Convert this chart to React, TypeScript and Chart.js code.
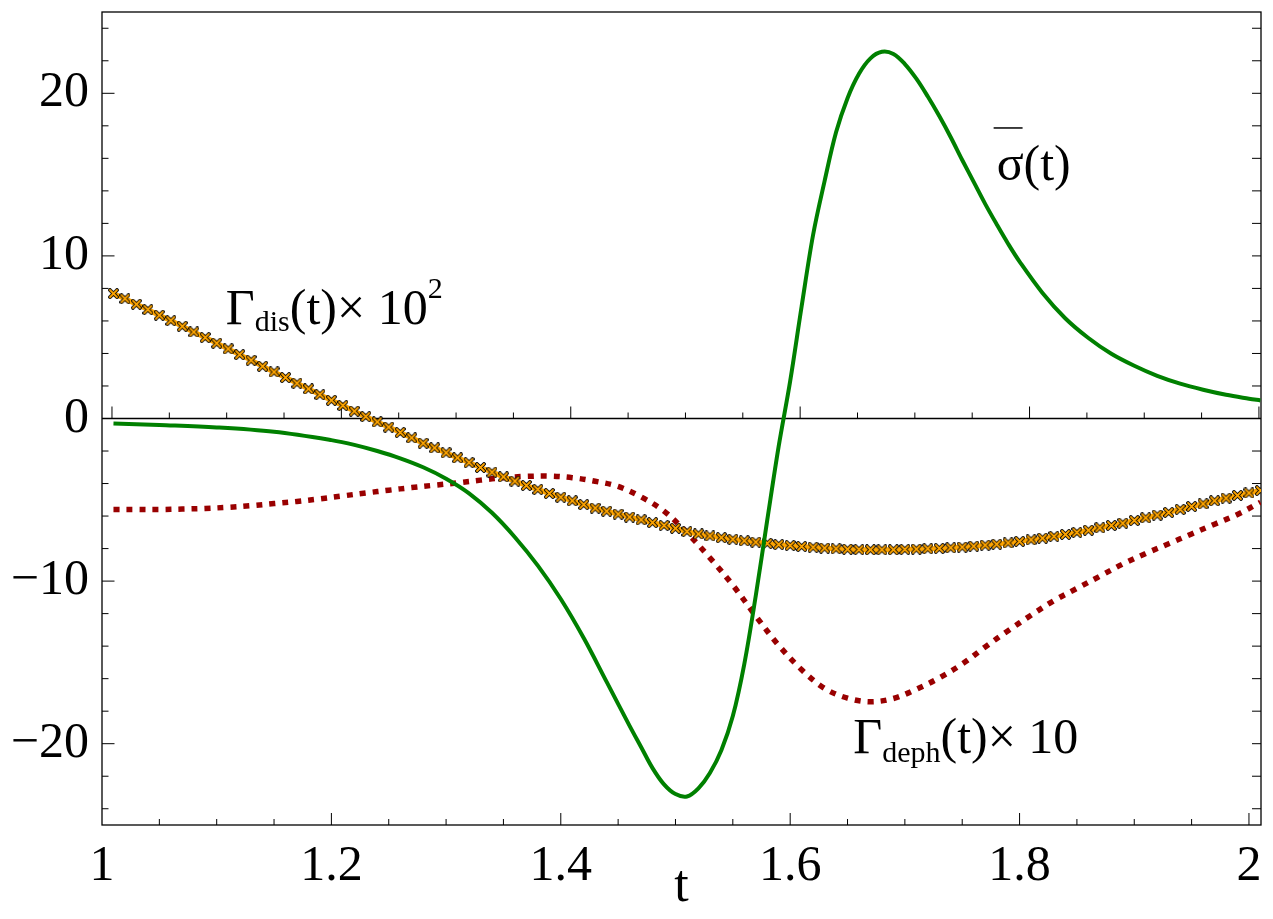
import React, { useEffect, useRef } from "react";
import { Chart, registerables } from "chart.js";

Chart.register(...registerables);

// ---- axis ticks ----
const X_TICK_LABELS = [1, 1.2, 1.4, 1.6, 1.8, 2];
const Y_TICK_LABELS = [-20, -10, 0, 10, 20];
const X_MIN = 1;
const X_MAX = 2.0105;
const Y_MIN = -25;
const Y_MAX = 25;

// ---- Γ_dis(t) × 10^2 (orange, with markers) ----
const DIS_T = [
  1.01, 1.02, 1.03, 1.04, 1.05, 1.06, 1.07, 1.08, 1.09, 1.1,
  1.11, 1.12, 1.13, 1.14, 1.15, 1.16, 1.17, 1.18, 1.19, 1.2,
  1.21, 1.22, 1.23, 1.24, 1.25, 1.26, 1.27, 1.28, 1.29, 1.3,
  1.31, 1.32, 1.33, 1.34, 1.35, 1.36, 1.37, 1.38, 1.39, 1.4,
  1.41, 1.42, 1.43, 1.44, 1.45, 1.46, 1.47, 1.48, 1.49, 1.5,
  1.51, 1.52, 1.53, 1.54, 1.55, 1.56, 1.57, 1.58, 1.59, 1.6,
  1.61, 1.62, 1.63, 1.64, 1.65, 1.66, 1.67, 1.68, 1.69, 1.7,
  1.71, 1.72, 1.73, 1.74, 1.75, 1.76, 1.77, 1.78, 1.79, 1.8,
  1.81, 1.82, 1.83, 1.84, 1.85, 1.86, 1.87, 1.88, 1.89, 1.9,
  1.91, 1.92, 1.93, 1.94, 1.95, 1.96, 1.97, 1.98, 1.99, 2.0,
  2.01,
];
const DIS_V = [
  7.68, 7.37, 7.03, 6.7, 6.35, 6.02, 5.67, 5.32, 4.98, 4.63,
  4.28, 3.93, 3.58, 3.21, 2.86, 2.52, 2.17, 1.82, 1.47, 1.12,
  0.8, 0.45, 0.12, -0.21, -0.53, -0.86, -1.19, -1.52, -1.81, -2.11,
  -2.42, -2.71, -3.01, -3.3, -3.59, -3.85, -4.12, -4.36, -4.61, -4.84,
  -5.06, -5.29, -5.51, -5.7, -5.88, -6.06, -6.23, -6.4, -6.58, -6.75,
  -6.95, -7.1, -7.22, -7.33, -7.43, -7.52, -7.6, -7.68, -7.75, -7.81,
  -7.87, -7.92, -7.97, -8.01, -8.04, -8.06, -8.07, -8.07, -8.07, -8.05,
  -8.03, -8.01, -7.99, -7.95, -7.91, -7.85, -7.79, -7.73, -7.65, -7.56,
  -7.46, -7.36, -7.25, -7.13, -7.01, -6.87, -6.72, -6.58, -6.44, -6.27,
  -6.11, -5.94, -5.78, -5.59, -5.41, -5.25, -5.06, -4.9, -4.73, -4.58,
  -4.43,
];

// ---- σ̄(t) (green) ----
const SIGMA_T = [
  1.01, 1.05, 1.1, 1.15, 1.2, 1.22, 1.24, 1.26, 1.28, 1.3,
  1.32, 1.34, 1.36, 1.38, 1.4, 1.42, 1.44, 1.46, 1.47, 1.48,
  1.49, 1.5, 1.51, 1.52, 1.53, 1.54, 1.55, 1.56, 1.57, 1.58,
  1.59, 1.6, 1.61, 1.62, 1.63, 1.64, 1.65, 1.66, 1.67, 1.68,
  1.69, 1.7, 1.71, 1.72, 1.73, 1.74, 1.75, 1.76, 1.77, 1.78,
  1.79, 1.8, 1.82, 1.84, 1.86, 1.88, 1.9, 1.92, 1.94, 1.96,
  1.98, 2.0, 2.01,
];
const SIGMA_V = [
  -0.3, -0.4, -0.55, -0.82, -1.33, -1.62, -2.0, -2.45, -3.0, -3.7,
  -4.6, -5.8, -7.3, -9.05, -11.1, -13.5, -16.2, -18.9, -20.2, -21.5,
  -22.5, -23.1, -23.25, -22.75, -21.8, -20.4, -18.3, -15.1, -10.9, -6.25,
  -1.7, 2.3, 6.9, 11.3, 14.6, 17.6, 19.7, 21.2, 22.15, 22.55,
  22.42, 21.8, 20.9, 19.8, 18.6, 17.3, 15.9, 14.55, 13.2, 11.95,
  10.75, 9.65, 7.72, 6.15, 4.95, 3.98, 3.24, 2.62, 2.14, 1.77,
  1.46, 1.22, 1.11,
];

// ---- Γ_deph(t) × 10 (dark red, dotted) ----
const DEPH_T = [
  1.01, 1.03, 1.05, 1.07, 1.09, 1.11, 1.13, 1.15, 1.17, 1.19,
  1.21, 1.23, 1.25, 1.27, 1.29, 1.31, 1.33, 1.35, 1.37, 1.39,
  1.41, 1.43, 1.45, 1.47, 1.49, 1.51, 1.53, 1.55, 1.57, 1.59,
  1.61, 1.63, 1.65, 1.67, 1.69, 1.71, 1.73, 1.75, 1.77, 1.79,
  1.81, 1.83, 1.85, 1.87, 1.89, 1.91, 1.93, 1.95, 1.97, 1.99,
  2.01,
];
const DEPH_V = [
  -5.6, -5.6, -5.6, -5.57, -5.53, -5.46, -5.36, -5.23, -5.1, -4.94,
  -4.76, -4.58, -4.41, -4.25, -4.1, -3.96, -3.79, -3.64, -3.56, -3.54,
  -3.64, -3.86, -4.18, -4.82, -5.7, -7.02, -8.57, -10.25, -12.15, -13.95,
  -15.45, -16.6, -17.2, -17.42, -17.22, -16.65, -15.95, -15.1, -14.05, -13.05,
  -12.1, -11.2, -10.45, -9.7, -8.95, -8.3, -7.7, -7.1, -6.5, -5.9,
  -5.15,
];

// ---- in-plot labels (anchor: left edge / baseline, in data coords) ----
const LABEL_DIS = { t: 1.108, v: 5.84 };
const LABEL_SIGMA = { t: 1.78, v: 14.67 };
const LABEL_DEPH = { t: 1.655, v: -20.6 };

const SERIF = '"Liberation Serif", "Times New Roman", serif';
const AXIS_SHIFT = 0.0087; // zero-line ticks sit slightly right of the frame ticks

function toPoints(ts: number[], vs: number[]) {
  return ts.map((t, i) => ({ x: t, y: vs[i] }));
}

function makeMarker(): HTMLCanvasElement {
  const c = document.createElement("canvas");
  c.width = 11;
  c.height = 11;
  const g = c.getContext("2d")!;
  g.beginPath();
  g.moveTo(2, 2);
  g.lineTo(9, 9);
  g.moveTo(9, 2);
  g.lineTo(2, 9);
  g.lineCap = "round";
  g.strokeStyle = "#000";
  g.lineWidth = 3.8;
  g.stroke();
  g.strokeStyle = "#FFA500";
  g.lineWidth = 1.8;
  g.stroke();
  return c;
}

type Part = { text: string; size: number; dy?: number };

function drawRich(ctx: CanvasRenderingContext2D, x0: number, y0: number, parts: Part[]) {
  let cx = x0;
  for (const p of parts) {
    ctx.font = `${p.size}px ${SERIF}`;
    ctx.fillText(p.text, cx, y0 + (p.dy || 0));
    cx += ctx.measureText(p.text).width;
  }
}

const framePlugin = {
  id: "frameTicks",
  beforeDatasetsDraw(chart: any) {
    const { ctx, chartArea: a, scales } = chart;
    const x = scales.x;
    const y = scales.y;
    const line = (x1: number, y1: number, x2: number, y2: number) => {
      ctx.beginPath();
      ctx.moveTo(x1, y1);
      ctx.lineTo(x2, y2);
      ctx.stroke();
    };
    ctx.save();
    ctx.strokeStyle = "#000";
    ctx.lineWidth = 1.3;
    ctx.strokeRect(a.left, a.top, a.right - a.left, a.bottom - a.top);
    const y0 = y.getPixelForValue(0);
    line(a.left, y0, a.right, y0);
    ctx.lineWidth = 1;
    for (let k = 0; k <= 20; k++) {
      const t = 1 + k * 0.05;
      const len = k % 4 === 0 ? 12 : 6;
      const px = x.getPixelForValue(t);
      if (px > a.left + 0.5 && px < a.right - 0.5) line(px, a.bottom, px, a.bottom - len);
      const pz = x.getPixelForValue(t + AXIS_SHIFT);
      if (pz < a.right - 1) line(pz, y0, pz, y0 - len);
    }
    for (let v = -24; v <= 24; v += 2) {
      const py = y.getPixelForValue(v);
      const len = v % 10 === 0 ? 12.5 : 6.5;
      line(a.left, py, a.left + len, py);
      line(a.right, py, a.right - 9, py);
    }
    ctx.restore();
  },
  afterDatasetsDraw(chart: any) {
    const { ctx, scales } = chart;
    const x = scales.x;
    const y = scales.y;
    ctx.save();
    ctx.fillStyle = "#000";
    ctx.textBaseline = "alphabetic";
    ctx.textAlign = "left";
    drawRich(ctx, x.getPixelForValue(LABEL_DIS.t), y.getPixelForValue(LABEL_DIS.v), [
      { text: "Γ", size: 50 },
      { text: "dis", size: 30, dy: 7 },
      { text: "(t)× 10", size: 50 },
      { text: "2", size: 30, dy: -26 },
    ]);
    drawRich(ctx, x.getPixelForValue(LABEL_DEPH.t), y.getPixelForValue(LABEL_DEPH.v), [
      { text: "Γ", size: 50 },
      { text: "deph", size: 30, dy: 9 },
      { text: "(t)× 10", size: 50 },
    ]);
    const sx = x.getPixelForValue(LABEL_SIGMA.t);
    const sy = y.getPixelForValue(LABEL_SIGMA.v);
    drawRich(ctx, sx, sy, [{ text: "σ(t)", size: 50 }]);
    ctx.font = `50px ${SERIF}`;
    const sw = ctx.measureText("σ").width;
    ctx.strokeStyle = "#000";
    ctx.lineWidth = 1.5;
    ctx.beginPath();
    ctx.moveTo(sx - 3, sy - 52);
    ctx.lineTo(sx + sw - 1, sy - 52);
    ctx.stroke();
    ctx.restore();
  },
};

export default function App() {
  const ref = useRef<HTMLCanvasElement | null>(null);

  useEffect(() => {
    document.body.style.margin = "0";
    const canvas = ref.current!;
    const marker = makeMarker();
    const chart = new Chart(canvas, {
      type: "line",
      data: {
        datasets: [
          {
            label: "sigma",
            data: toPoints(SIGMA_T, SIGMA_V),
            borderColor: "#008000",
            borderWidth: 4,
            pointRadius: 0,
            tension: 0.35,
            fill: false,
            order: 0,
          },
          {
            label: "dis",
            data: toPoints(DIS_T, DIS_V),
            borderColor: "#FFA500",
            borderWidth: 5,
            pointStyle: marker as any,
            pointRadius: 4,
            tension: 0.3,
            fill: false,
            order: 1,
          },
          {
            label: "deph",
            data: toPoints(DEPH_T, DEPH_V),
            borderColor: "#990000",
            borderWidth: 5.5,
            borderDash: [6, 7],
            borderCapStyle: "butt",
            pointRadius: 0,
            tension: 0.35,
            fill: false,
            order: 2,
          },
        ],
      },
      options: {
        animation: false,
        responsive: false,
        devicePixelRatio: 1,
        layout: { padding: { top: 12, right: 12, bottom: 0, left: 0 } },
        plugins: { legend: { display: false }, tooltip: { enabled: false } },
        scales: {
          x: {
            type: "linear",
            min: X_MIN,
            max: X_MAX,
            grid: { display: false, drawTicks: false },
            border: { display: false },
            afterBuildTicks: (s: any) => {
              s.ticks = X_TICK_LABELS.map((v) => ({ value: v }));
            },
            afterFit: (s: any) => {
              s.height = 94;
              s.paddingLeft = 0;
              s.paddingRight = 0;
            },
            ticks: {
              autoSkip: false,
              maxRotation: 0,
              padding: 12,
              color: "#000",
              font: { family: SERIF, size: 50 },
              callback: (v: any) => String(v),
            },
            title: {
              display: true,
              text: "t",
              color: "#000",
              font: { family: SERIF, size: 52 },
              padding: { top: 0, bottom: 0 },
            },
          },
          y: {
            type: "linear",
            min: Y_MIN,
            max: Y_MAX,
            grid: { display: false, drawTicks: false },
            border: { display: false },
            afterBuildTicks: (s: any) => {
              s.ticks = Y_TICK_LABELS.map((v) => ({ value: v }));
            },
            afterFit: (s: any) => {
              s.width = 102;
              s.paddingTop = 0;
              s.paddingBottom = 0;
            },
            ticks: {
              autoSkip: false,
              padding: 13,
              color: "#000",
              font: { family: SERIF, size: 50 },
              callback: (v: any) => (Number(v) < 0 ? "\u2212" + Math.abs(Number(v)) : String(v)),
            },
          },
        },
      },
      plugins: [framePlugin],
    });
    return () => chart.destroy();
  }, []);

  return (
    <div style={{ width: 1273, height: 919, position: "relative", background: "#fff" }}>
      <canvas ref={ref} width={1273} height={919} style={{ display: "block" }} />
    </div>
  );
}
